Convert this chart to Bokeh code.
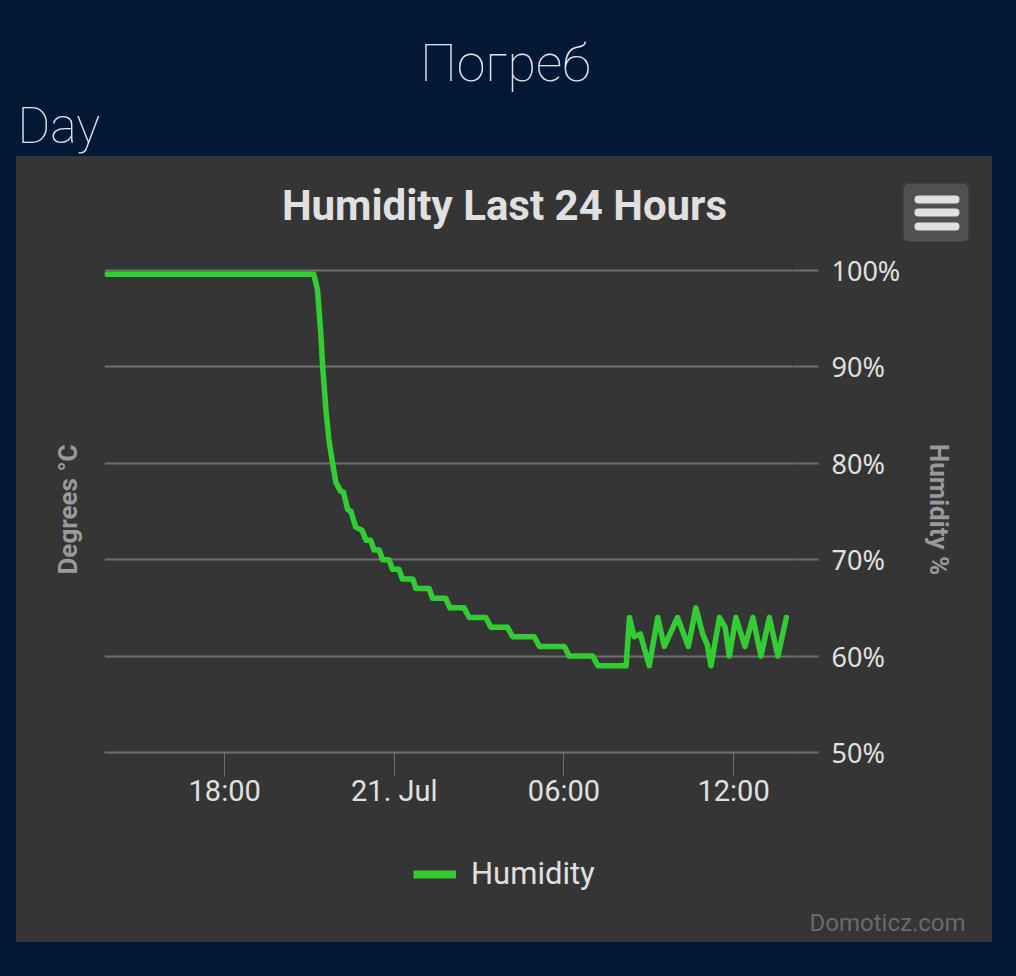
import pandas as pd
from bokeh.plotting import figure
from bokeh.layouts import column, row
from bokeh.models import Range1d, FixedTicker, LinearAxis, Legend, LegendItem, Spacer
from bokeh.core.properties import value
from bokeh.embed import file_html
from bokeh.resources import INLINE

# ---------------- data ----------------
page_title = "Погреб"
section_title = "Day"
chart_title = "Humidity Last 24 Hours"
series_name = "Humidity"
left_axis_title = "Degrees °C"
right_axis_title = "Humidity %"
credit_text = "Domoticz.com"

times = [
    "2023-07-20 13:50", "2023-07-20 21:09", "2023-07-20 21:17", "2023-07-20 21:24",
    "2023-07-20 21:28", "2023-07-20 21:35", "2023-07-20 21:41", "2023-07-20 21:49",
    "2023-07-20 21:56", "2023-07-20 22:06", "2023-07-20 22:12", "2023-07-20 22:21",
    "2023-07-20 22:28", "2023-07-20 22:38", "2023-07-20 22:52", "2023-07-20 23:00",
    "2023-07-20 23:10", "2023-07-20 23:17", "2023-07-20 23:28", "2023-07-20 23:35",
    "2023-07-20 23:49", "2023-07-20 23:56", "2023-07-21 00:10", "2023-07-21 00:17",
    "2023-07-21 00:39", "2023-07-21 00:46", "2023-07-21 01:14", "2023-07-21 01:21",
    "2023-07-21 01:49", "2023-07-21 01:58", "2023-07-21 02:28", "2023-07-21 02:39",
    "2023-07-21 03:14", "2023-07-21 03:25", "2023-07-21 04:00", "2023-07-21 04:11",
    "2023-07-21 04:57", "2023-07-21 05:08", "2023-07-21 06:01", "2023-07-21 06:11",
    "2023-07-21 07:01", "2023-07-21 07:12", "2023-07-21 08:12", "2023-07-21 08:19",
    "2023-07-21 08:29", "2023-07-21 08:42", "2023-07-21 09:01", "2023-07-21 09:19",
    "2023-07-21 09:33", "2023-07-21 10:01", "2023-07-21 10:24", "2023-07-21 10:40",
    "2023-07-21 10:55", "2023-07-21 11:04", "2023-07-21 11:12", "2023-07-21 11:30",
    "2023-07-21 11:42", "2023-07-21 11:51", "2023-07-21 12:05", "2023-07-21 12:24",
    "2023-07-21 12:41", "2023-07-21 12:58", "2023-07-21 13:16", "2023-07-21 13:34",
    "2023-07-21 13:52",
]
humidity = [
    99.6, 99.6, 98.0, 93.5,
    90.0, 85.5, 82.5, 80.0,
    78.0, 77.1, 77.0, 75.2,
    75.0, 73.4, 73.0, 72.0,
    72.0, 71.0, 71.0, 70.0,
    70.0, 69.0, 69.0, 68.0,
    68.0, 67.0, 67.0, 66.0,
    66.0, 65.0, 65.0, 64.0,
    64.0, 63.0, 63.0, 62.0,
    62.0, 61.0, 61.0, 60.0,
    60.0, 59.0, 59.0, 64.0,
    62.0, 62.3, 59.0, 64.0,
    61.0, 64.0, 61.0, 65.0,
    62.2, 61.2, 59.0, 64.0,
    63.0, 60.0, 64.0, 61.0,
    64.0, 60.0, 64.0, 60.0,
    64.0,
]

x_start = "2023-07-20 13:45"
x_end = "2023-07-21 14:05"
x_tick_times = ["2023-07-20 18:00", "2023-07-21 00:00", "2023-07-21 06:00", "2023-07-21 12:00"]
x_tick_labels = ["18:00", "21. Jul", "06:00", "12:00"]
y_min, y_max = 50, 100.4
y_ticks = [50, 60, 70, 80, 90, 100]
y_tick_labels = ["50%", "60%", "70%", "80%", "90%", "100%"]

# ---------------- style ----------------
NAVY = "#011936"
PANEL = "#353535"
GRID = "#707070"
GREEN = "#32cd32"
TEXT = "#e0e0e0"
AXIS_TITLE = "#9a9a9a"
HEAD = "#dfe4ea"

COMMON = dict(output_backend="svg", toolbar_location=None,
              x_axis_location=None, y_axis_location=None,
              min_border_left=0, min_border_right=0,
              min_border_top=0, min_border_bottom=0)


def strip(width, height, x0, x1, y_top, y_bottom, bg):
    """a plain drawing strip whose data units are page pixels (y downwards)"""
    s = figure(width=width, height=height,
               x_range=Range1d(x0, x1), y_range=Range1d(y_bottom, y_top), **COMMON)
    s.background_fill_color = bg
    s.border_fill_color = bg
    s.outline_line_color = None
    s.grid.visible = False
    return s


# ---- page header (navy) ----
header = strip(1016, 156, 0, 1016, 0, 156, NAVY)
header.text(x=[505], y=[63], text=[page_title], text_align="center",
            text_baseline="middle", text_font=value("Roboto Thin"),
            text_font_size="52px", text_color=HEAD)
header.text(x=[17], y=[125], text=[section_title], text_align="left",
            text_baseline="middle", text_font=value("Roboto Thin"),
            text_font_size="50px", text_color=HEAD)

# ---- chart title strip ----
top = strip(976, 94, 16, 992, 156, 250, PANEL)
top.text(x=[504], y=[205], text=[chart_title], text_align="center",
         text_baseline="middle", text_font=value("Roboto"),
         text_font_style="bold", text_font_size="42px", text_color=TEXT)
top.quad(left=[903], right=[968], top=[183], bottom=[241],
         fill_color="#505050", line_color=None, border_radius=5)
top.quad(left=[914, 914, 914], right=[959, 959, 959],
         top=[195, 208, 222], bottom=[203, 216, 230],
         fill_color="#e0e0e0", line_color=None, border_radius=4)

# ---- chart ----
t = pd.to_datetime(times)
tick_ms = [pd.Timestamp(s).value / 1e6 for s in x_tick_times]

p = figure(
    width=976, height=580,
    x_axis_type="datetime", y_axis_location="right",
    x_range=Range1d(pd.Timestamp(x_start), pd.Timestamp(x_end)),
    y_range=Range1d(y_min, y_max),
    output_backend="svg", toolbar_location=None,
    min_border_left=88, min_border_right=200,
    min_border_top=16, min_border_bottom=78,
)
p.title.visible = False
p.border_fill_color = PANEL
p.background_fill_color = PANEL
p.outline_line_color = None

p.xgrid.visible = False
yt = FixedTicker(ticks=y_ticks)
p.yaxis.ticker = yt
p.ygrid.ticker = yt
p.ygrid.grid_line_color = GRID
p.ygrid.grid_line_width = 2

p.xaxis.ticker = FixedTicker(ticks=tick_ms)
p.xaxis.major_label_overrides = {ms: lbl for ms, lbl in zip(tick_ms, x_tick_labels)}
p.xaxis.axis_line_color = GRID
p.xaxis.axis_line_width = 2
p.xaxis.major_tick_line_color = GRID
p.xaxis.major_tick_line_width = 1
p.xaxis.major_tick_out = 24
p.xaxis.major_tick_in = 0
p.xaxis.minor_tick_line_color = None
p.xaxis.major_label_text_font = "Roboto"
p.xaxis.major_label_text_font_size = "29px"
p.xaxis.major_label_text_color = TEXT
p.xaxis.major_label_standoff = -3

p.yaxis.major_label_overrides = {v: lbl for v, lbl in zip(y_ticks, y_tick_labels)}
p.yaxis.axis_line_color = None
p.yaxis.major_tick_line_color = GRID
p.yaxis.major_tick_line_width = 2
p.yaxis.major_tick_out = 26
p.yaxis.major_tick_in = 0
p.yaxis.minor_tick_line_color = None
p.yaxis.major_label_text_font = "Noto Sans"
p.yaxis.major_label_text_font_size = "27px"
p.yaxis.major_label_text_color = TEXT
p.yaxis.major_label_standoff = 13
p.yaxis.axis_label = right_axis_title
p.yaxis.axis_label_text_font = "Roboto"
p.yaxis.axis_label_text_font_style = "bold"
p.yaxis.axis_label_text_font_size = "26px"
p.yaxis.axis_label_text_color = AXIS_TITLE
p.yaxis.axis_label_standoff = 21

left_axis = LinearAxis(ticker=FixedTicker(ticks=[]), axis_label=left_axis_title,
                       axis_line_color=None, major_tick_line_color=None,
                       minor_tick_line_color=None,
                       axis_label_text_font="Roboto", axis_label_text_font_style="bold",
                       axis_label_text_font_size="26px", axis_label_text_color=AXIS_TITLE,
                       axis_label_standoff=22)
p.add_layout(left_axis, "left")

p.line(t, humidity, line_color=GREEN, line_width=5.5, line_join="round", line_cap="round")

# ---- legend + credits strip ----
bottom = strip(976, 112, 16, 992, 830, 942, PANEL)
proxy = bottom.line(x=[float("nan")], y=[float("nan")], line_color=GREEN, line_width=8)
legend = Legend(items=[LegendItem(label=series_name, renderers=[proxy])],
                location=(397, 50), orientation="horizontal",
                glyph_width=43, glyph_height=20, label_standoff=15, padding=10,
                label_text_font="Roboto", label_text_font_size="31px",
                label_text_color=TEXT, label_text_baseline="middle",
                background_fill_alpha=0, border_line_color=None)
bottom.add_layout(legend)
bottom.text(x=[965], y=[922], text=[credit_text], text_align="right",
            text_baseline="middle", text_font=value("Roboto"),
            text_font_size="24px", text_color="#6a6a6a")

chart_col = column(top, row(p, spacing=0), bottom, spacing=0,
                   styles={"background-color": PANEL})
body = row(Spacer(width=16, height=786), chart_col, Spacer(width=24, height=786), spacing=0)
page = column(header, body, Spacer(width=1016, height=34), spacing=0,
              styles={"background-color": NAVY})

open("out.html", "w").write(file_html(page, INLINE))
